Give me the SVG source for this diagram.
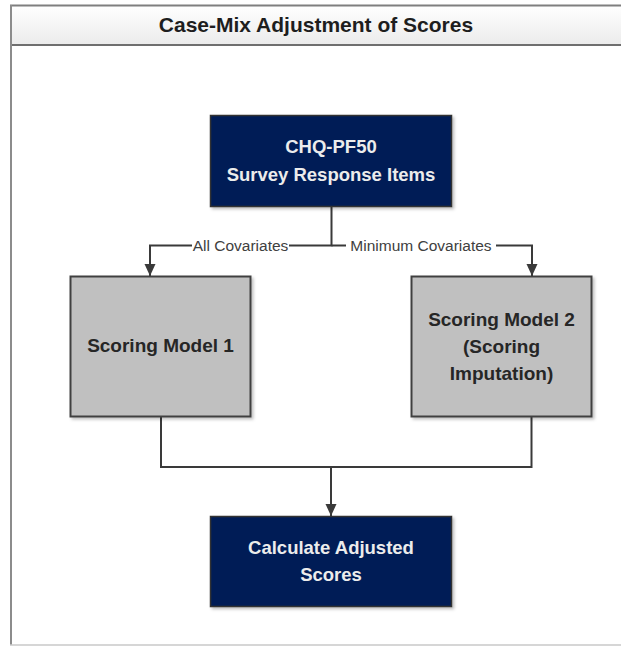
<svg xmlns="http://www.w3.org/2000/svg" width="621" height="646" viewBox="0 0 621 646">
<style>
  .navy { fill: #001b56; stroke: #333333; stroke-width: 1.5; }
  .gray { fill: #c0c0c0; stroke: #404040; stroke-width: 2; }
  .wt { font-family: "Liberation Sans", Arial, sans-serif; font-weight: bold; font-size: 18.5px; fill: #ececec; text-anchor: middle; }
  .bt { font-family: "Liberation Sans", Arial, sans-serif; font-weight: bold; font-size: 19px; fill: #262626; text-anchor: middle; }
  .lbl { font-family: "Liberation Sans", Arial, sans-serif; font-size: 15.5px; fill: #404040; text-anchor: middle; }
  .conn { fill: none; stroke: #3a3a3a; stroke-width: 2; }
</style>
<defs>
  <linearGradient id="tg" x1="0" y1="0" x2="0" y2="1">
    <stop offset="0" stop-color="#ffffff"/>
    <stop offset="1" stop-color="#ececec"/>
  </linearGradient>
  <marker id="arr" viewBox="0 0 12 12" refX="12" refY="6" markerWidth="12" markerHeight="12" orient="auto" markerUnits="userSpaceOnUse">
    <path d="M0,0.5 L12,6 L0,11.5 z" fill="#3a3a3a"/>
  </marker>
  <filter id="sh" x="-10%" y="-10%" width="130%" height="130%">
    <feDropShadow dx="2" dy="2" stdDeviation="1.5" flood-color="#000" flood-opacity="0.25"/>
  </filter>
</defs>
<rect width="621" height="646" fill="#ffffff"/>
<g id="frame">
  <rect x="11" y="6" width="612" height="38" fill="url(#tg)"/>
  <line x1="10" y1="5.5" x2="621" y2="5.5" stroke="#7f7f7f" stroke-width="2"/>
  <line x1="10" y1="45" x2="621" y2="45" stroke="#6f6f6f" stroke-width="2"/>
  <line x1="11" y1="5" x2="11" y2="645" stroke="#8c8c8c" stroke-width="2"/>
  <line x1="10" y1="645" x2="621" y2="645" stroke="#c8c8c8" stroke-width="1.5"/>
  <text x="316" y="32" font-family="Liberation Sans, Arial, sans-serif" font-weight="bold" font-size="21" fill="#1e1e1e" text-anchor="middle">Case-Mix Adjustment of Scores</text>
</g>
<g id="connectors">
  <path class="conn" d="M331.5,207 V245.5 H150 V276" marker-end="url(#arr)"/>
  <path class="conn" d="M331.5,245.5 H532 V276" marker-end="url(#arr)"/>
  <path class="conn" d="M161,417 V467 H531.5 V417"/>
  <path class="conn" d="M331,467 V516" marker-end="url(#arr)"/>
  <rect x="192" y="237" width="97" height="17" fill="#ffffff"/>
  <rect x="346" y="237" width="150" height="17" fill="#ffffff"/>
  <text class="lbl" x="240.5" y="251">All Covariates</text>
  <text class="lbl" x="421" y="251">Minimum Covariates</text>
</g>
<g id="survey">
  <rect class="navy" x="210.5" y="115.5" width="241" height="91" filter="url(#sh)"/>
  <text class="wt" x="331" y="153">CHQ-PF50</text>
  <text class="wt" x="331" y="181">Survey Response Items</text>
</g>
<g id="model1">
  <rect class="gray" x="70.5" y="276.5" width="180" height="140" filter="url(#sh)"/>
  <text class="bt" x="160.5" y="352">Scoring Model 1</text>
</g>
<g id="model2">
  <rect class="gray" x="411.5" y="276.5" width="180" height="140" filter="url(#sh)"/>
  <text class="bt" x="501.5" y="326">Scoring Model 2</text>
  <text class="bt" x="501.5" y="353">(Scoring</text>
  <text class="bt" x="501.5" y="380">Imputation)</text>
</g>
<g id="calculate">
  <rect class="navy" x="210.5" y="516.5" width="241" height="90" filter="url(#sh)"/>
  <text class="wt" x="331" y="554">Calculate Adjusted</text>
  <text class="wt" x="331" y="581">Scores</text>
</g>
</svg>
